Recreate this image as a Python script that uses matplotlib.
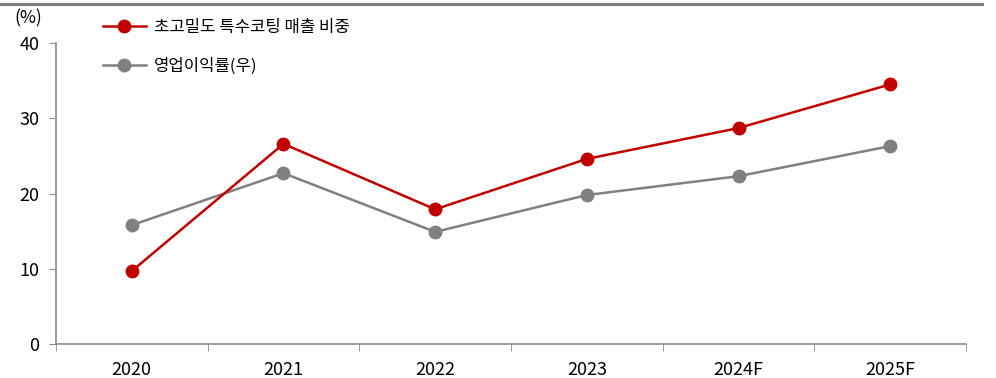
import matplotlib.pyplot as plt
from matplotlib.lines import Line2D
import numpy as np

plt.rcParams['font.family'] = ['Noto Sans CJK KR', 'DejaVu Sans']

years = ['2020', '2021', '2022', '2023', '2024F', '2025F']
coating_share = [9.7, 26.6, 17.9, 24.6, 28.7, 34.5]
op_margin = [15.8, 22.7, 14.9, 19.8, 22.3, 26.3]

red = '#C00000'
grey = '#808080'
axis_c = '#8C8C8C'

fig = plt.figure(figsize=(9.96, 3.78), dpi=100)
ax = fig.add_axes([0.0562, 0.0899, 0.9137, 0.7963])

x = np.arange(len(years))
ax.plot(x, coating_share, color=red, lw=1.8, marker='o', ms=9,
        label='초고밀도 특수코팅 매출 비중', zorder=3)
ax.plot(x, op_margin, color=grey, lw=1.8, marker='o', ms=9,
        label='영업이익률(우)', zorder=2)

ax.set_xlim(-0.5, len(years) - 0.5)
ax.set_ylim(0, 40)
ax.set_yticks([0, 10, 20, 30, 40])
ax.set_xticks(x)
ax.set_xticklabels(years)
ax.set_xticks(np.arange(-0.5, len(years)), minor=True)
ax.tick_params(axis='x', which='major', length=0, pad=12, labelsize=13)
ax.tick_params(axis='x', which='minor', length=5, color=axis_c, direction='out')
ax.tick_params(axis='y', length=5, color=axis_c, labelsize=13, pad=7)

for s in ['top', 'right']:
    ax.spines[s].set_visible(False)
for s in ['left', 'bottom']:
    ax.spines[s].set_color(axis_c)
    ax.spines[s].set_linewidth(1.2)

fig.text(0.014, 0.952, '(%)', fontsize=12.5, ha='left', va='center')

ax.legend(loc='upper left', bbox_to_anchor=(0.088, 0.99, 0, 0),
          bbox_transform=fig.transFigure, frameon=False, fontsize=12,
          handlelength=2.6, handletextpad=0.5, labelspacing=1.3)

# header rule across the top
fig.add_artist(Line2D([0, 0.986], [1 - 3.5 / 378, 1 - 3.5 / 378],
                      transform=fig.transFigure, color='#808080', lw=2.2))

fig.savefig('out.png', dpi=100)
